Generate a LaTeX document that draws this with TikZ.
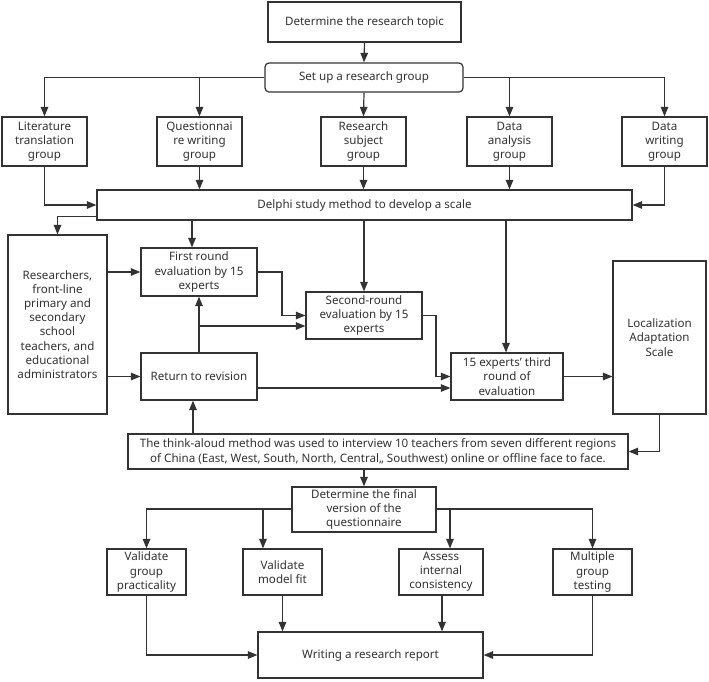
\documentclass[tikz,border=0pt]{standalone}
\usepackage{fontspec}
\setmainfont{Noto Sans}
\usetikzlibrary{arrows.meta,calc}
\definecolor{lc}{HTML}{333333}
\definecolor{tc}{HTML}{333333}
\tikzset{
  box/.style={draw=lc, line width=1.2pt, fill=white, inner sep=0pt, align=center, text=tc,
    font=\fontsize{11.6}{14.2}\selectfont},
  sz/.style 2 args={minimum width=#1pt, minimum height=#2pt},
  arr/.style={draw=lc, line width=1.2pt, -{Triangle[length=9.5pt,width=7.5pt]}},
  ln/.style={draw=lc, line width=1.2pt},
}
\begin{document}
\begin{tikzpicture}[x=1pt,y=-1pt]
\fill[white] (0,0) rectangle (709,681);
\useasboundingbox (0,0) rectangle (709,681);
% nodes
\node[box, sz={193}{40}] (topic) at (364.5,22) {Determine the research topic};
\node[box, sz={198}{29}, rounded corners=4pt] (setup) at (364,77.5) {Set up a research group};
\node[box, sz={85}{49}] (lit) at (44.5,141.5) {Literature\\translation\\group};
\node[box, sz={85}{49}] (quest) at (199.5,141.5) {Questionnai\\re writing\\group};
\node[box, sz={85}{49}] (subj) at (363.5,141.5) {Research\\subject\\group};
\node[box, sz={85}{49}] (ana) at (509.5,141.5) {Data\\analysis\\group};
\node[box, sz={85}{49}] (dwrite) at (664.5,141.5) {Data\\writing\\group};
\node[box, sz={535}{30}] (delphi) at (364.5,205) {Delphi study method to develop a scale};
\node[box, sz={99}{179}] (res) at (57.5,324.5) {Researchers,\\front-line\\primary and\\secondary\\school\\teachers, and\\educational\\administrators};
\node[box, sz={116}{48}] (first) at (199,272) {First round\\evaluation by 15\\experts};
\node[box, sz={116}{47}] (ret) at (199,376.5) {Return to revision};
\node[box, sz={116}{47}] (second) at (364,315.5) {Second-round\\evaluation by 15\\experts};
\node[box, sz={112}{47}] (third) at (507,376.5) {15 experts' third\\round of\\evaluation};
\node[box, sz={93}{153}] (loc) at (659.5,337.5) {Localization\\Adaptation\\Scale};
\node[box, sz={500}{35}] (think) at (378,451.5) {The think-aloud method was used to interview 10 teachers from seven different regions\\of China (East, West, South, North, Central,, Southwest) online or offline face to face.};
\node[box, sz={144}{45}] (final) at (364,509.5) {Determine the final\\version of the\\questionnaire};
\node[box, sz={79}{46}] (vg) at (146.5,572) {Validate\\group\\practicality};
\node[box, sz={79}{46}] (vm) at (282.5,572) {Validate\\model fit};
\node[box, sz={84}{46}] (ai) at (441,572) {Assess\\internal\\consistency};
\node[box, sz={79}{46}] (mg) at (592.5,572) {Multiple\\group\\testing};
\node[box, sz={225}{46}] (report) at (370.5,655) {Writing a research report};
% connectors top
\draw[arr] (topic.south) -- (setup.north);
\draw[arr] (setup.west) -| (lit.north);
\draw[arr] (setup.west) -| (quest.north);
\draw[arr] (setup.south) -- (subj.north);
\draw[arr] (setup.east) -| (ana.north);
\draw[arr] (setup.east) -| (dwrite.north);
\draw[arr] (lit.south) |- (delphi.west);
\draw[arr] (quest.south) -- (quest.south |- delphi.north);
\draw[arr] (subj.south) -- (subj.south |- delphi.north);
\draw[arr] (ana.south) -- (ana.south |- delphi.north);
\draw[arr] (dwrite.south) |- (delphi.east);
% Delphi outputs
\coordinate (dl) at ($(delphi.south west)+(0,-4)$);
\draw[arr] (dl) -| (res.north);
\coordinate (f1) at ($(first.north)+(-7,0)$);
\draw[arr] (f1 |- delphi.south) -- (f1);
\draw[arr] (second.north |- delphi.south) -- (second.north);
\coordinate (t1) at ($(third.north)+(-1,0)$);
\draw[arr] (t1 |- delphi.south) -- (t1);
% middle
\draw[arr] (res.east |- first.west) -- (first.west);
\draw[arr] (res.east |- ret.west) -- (ret.west);
\draw[arr] (ret.north) -- (first.south);
\coordinate (br) at (ret.north |- 0,326);
\draw[arr] (br) -- (br -| second.west);
\coordinate (k1) at (282,272);
\draw[arr] (first.east) -- (k1) |- (second.west);
\coordinate (k2) at (436,315.5);
\draw[arr] (second.east) -- (k2) |- (third.west);
\coordinate (r3) at ($(ret.east)+(0,11.5)$);
\draw[arr] (r3) -- (r3 -| third.west);
\draw[arr] (third.east) -- (third.east -| loc.west);
\draw[arr] (loc.south) |- (think.east);
\coordinate (tr) at ($(ret.south)+(-6,0)$);
\draw[arr] (tr |- think.north) -- (tr);
\draw[arr] (think.south -| final.north) -- (final.north);
% bottom
\coordinate (fw) at ($(final.west)+(0,-0.5)$);
\coordinate (fe) at ($(final.east)+(0,-0.5)$);
\draw[arr] (fw) -| (vg.north);
\coordinate (vmt) at (263,0);
\draw[arr] (fw) -| (vmt |- vm.north);
\coordinate (ait) at (450,0);
\draw[arr] (fe) -| (ait |- ai.north);
\draw[arr] (fe) -| (mg.north);
\draw[arr] (vg.south) |- (report.west);
\draw[arr] (vm.south) -- (vm.south |- report.north);
\coordinate (ab) at ($(ai.south)+(1,0)$);
\draw[arr] (ab) -- (ab |- report.north);
\draw[arr] (mg.south) |- (report.east);
\end{tikzpicture}
\end{document}
